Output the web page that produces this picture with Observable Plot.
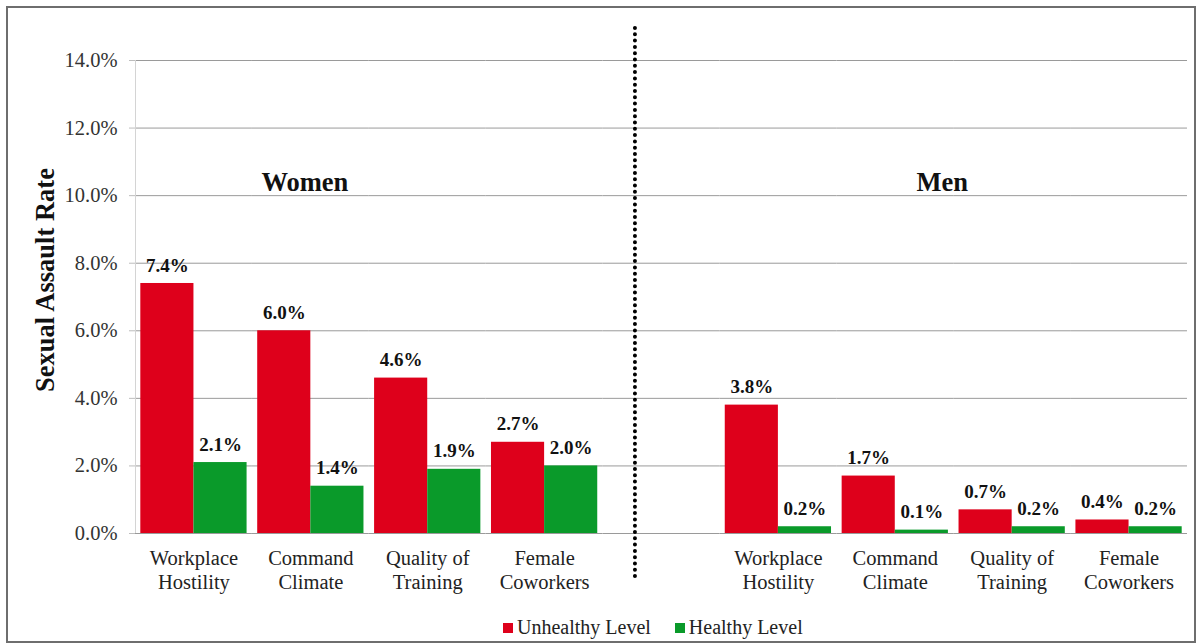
<!DOCTYPE html>
<html>
<head>
<meta charset="utf-8">
<script src="https://cdn.jsdelivr.net/npm/d3@7"></script>
<script src="https://cdn.jsdelivr.net/npm/@observablehq/plot@0.6"></script>
<style>
  body { margin: 0; background: #fff; }
  #wrap { position: relative; width: 1202px; height: 644px; font-family: "Liberation Serif", "Times New Roman", serif; overflow: hidden; }
  #border { position: absolute; left: 6px; top: 6px; width: 1190px; height: 637px; border: 2px solid #6e6e6e; box-sizing: border-box; pointer-events: none; }
  #chart { position: absolute; left: 0; top: 0; }
  #legend { position: absolute; top: 616px; left: 503px; display: flex; align-items: center; font-size: 20px; color: #222; }
  #legend .item { display: flex; align-items: center; margin-right: 24px; }
  #legend .sw { width: 10px; height: 10px; margin-right: 4px; }
</style>
</head>
<body>
<div id="wrap">
  <div id="chart"></div>
  <div id="legend"></div>
  <div id="border"></div>
</div>
<script>
// ---- data ----
const groups = ["Women", "Men"];
const categories = ["Workplace Hostility", "Command Climate", "Quality of Training", "Female Coworkers"];
const categoryLabels = ["Workplace\nHostility", "Command\nClimate", "Quality of\nTraining", "Female\nCoworkers"];
const series = ["Unhealthy Level", "Healthy Level"];
const womenUnhealthy = [7.4, 6.0, 4.6, 2.7];
const womenHealthy = [2.1, 1.4, 1.9, 2.0];
const menUnhealthy = [3.8, 1.7, 0.7, 0.4];
const menHealthy = [0.2, 0.1, 0.2, 0.2];
const yTicks = [0, 2, 4, 6, 8, 10, 12, 14];
const yTitle = "Sexual Assault Rate";
const seriesColors = ["#de001b", "#0a9a2a"];

// ---- build table ----
const gapKey = "gap";
const keyOf = (g, c) => g + "|" + c;
const fxDomain = [
  ...categories.map(c => keyOf(groups[0], c)),
  gapKey,
  ...categories.map(c => keyOf(groups[1], c))
];
const labelOf = new Map(categories.map((c, i) => [c, categoryLabels[i]]));
const rows = [];
const valuesByGroup = {
  [groups[0]]: [womenUnhealthy, womenHealthy],
  [groups[1]]: [menUnhealthy, menHealthy]
};
for (const g of groups) {
  categories.forEach((c, i) => {
    series.forEach((s, j) => {
      rows.push({key: keyOf(g, c), group: g, category: c, series: s, value: valuesByGroup[g][j][i]});
    });
  });
}
const gapRows = [{key: gapKey, series: series[0]}];
const fmt = v => v.toFixed(1) + "%";

const chart = Plot.plot({
  width: 1202,
  height: 610,
  marginLeft: 135,
  marginRight: 15,
  marginTop: 60,
  marginBottom: 77,
  style: {fontFamily: "'Liberation Serif', 'Times New Roman', serif", background: "transparent", color: "#222"},
  fx: {domain: fxDomain, padding: 0, round: false},
  x: {domain: series, paddingInner: 0, paddingOuter: 0.1, round: false, axis: null},
  y: {domain: [0, 14], axis: null},
  color: {domain: series, range: seriesColors},
  marks: [
    Plot.gridY(yTicks.slice(1), {stroke: "#9a9a9a", strokeOpacity: 1}),
    Plot.frame({anchor: "left", facetAnchor: "left", stroke: "#d4d4d4"}),
    Plot.axisY(yTicks, {
      tickFormat: fmt, tickSize: 6, tickPadding: 12, fontSize: 20.5,
      stroke: "#bdbdbd", fill: "#333", label: null
    }),
    Plot.barY(rows, {fx: "key", x: "series", y: "value", fill: "series"}),
    Plot.ruleY([0], {stroke: "#9a9a9a"}),
    Plot.text(rows, {
      fx: "key", x: "series", y: "value", text: d => fmt(d.value),
      dy: -18, fontWeight: "bold", fontSize: 19, fill: "#111"
    }),
    Plot.axisFx({
      anchor: "bottom", tickSize: 0, tickPadding: 14, fontSize: 20.5, lineHeight: 1.17,
      tickFormat: k => k === gapKey ? "" : labelOf.get(k.split("|")[1]),
      label: null, fill: "#222"
    }),
    Plot.ruleX(gapRows, {
      fx: "key", x: "series", stroke: "#000", strokeWidth: 4,
      strokeDasharray: "0 6.3", strokeLinecap: "round",
      insetTop: -32, insetBottom: -49
    }),
    Plot.text([{key: keyOf(groups[0], categories[1]), group: groups[0]}], {
      fx: "key", text: "group", frameAnchor: "top", dy: 112, dx: -6,
      fontSize: 26.5, fontWeight: "bold", fill: "#111"
    }),
    Plot.text([{key: keyOf(groups[1], categories[1]), group: groups[1]}], {
      fx: "key", text: "group", frameAnchor: "top", dy: 112, dx: 47,
      fontSize: 26.5, fontWeight: "bold", fill: "#111"
    }),
    Plot.text([{key: fxDomain[0], t: yTitle}], {
      fx: "key", text: "t", frameAnchor: "left", textAnchor: "middle", rotate: -90, dx: -90, dy: -17,
      fontSize: 26.5, fontWeight: "bold", fill: "#111"
    })
  ]
});
document.getElementById("chart").appendChild(chart);

// legend
const legend = document.getElementById("legend");
series.forEach((s, i) => {
  const item = document.createElement("div");
  item.className = "item";
  const sw = document.createElement("span");
  sw.className = "sw";
  sw.style.background = seriesColors[i];
  const t = document.createElement("span");
  t.textContent = s;
  item.appendChild(sw);
  item.appendChild(t);
  legend.appendChild(item);
});
</script>
</body>
</html>
